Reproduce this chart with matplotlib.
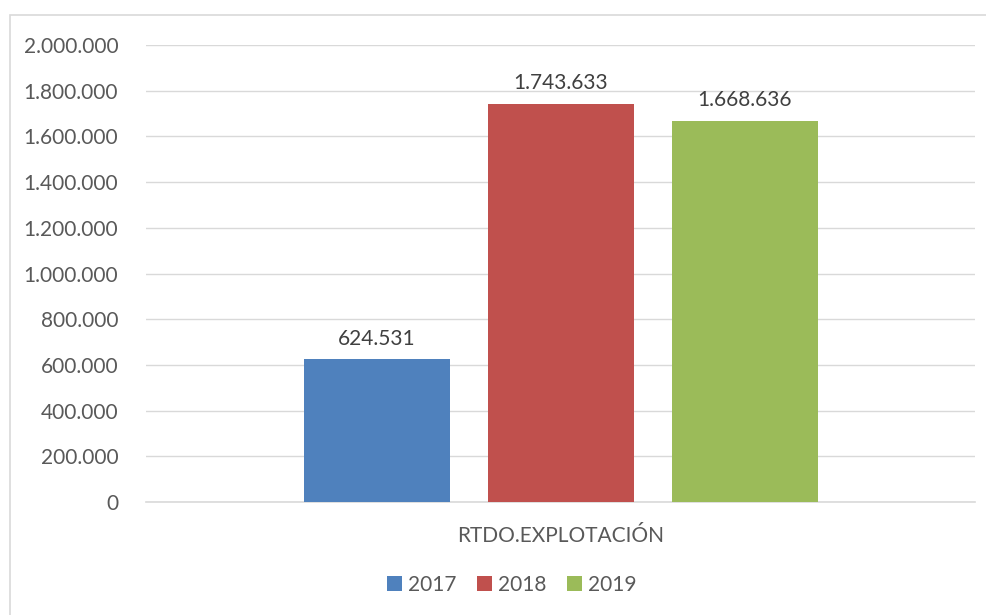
import matplotlib
matplotlib.use("Agg")
import matplotlib.pyplot as plt
from matplotlib.patches import Rectangle
from matplotlib.ticker import FuncFormatter

category = "RTDO.EXPLOTACIÓN"
years = ["2017", "2018", "2019"]
values = [624531, 1743633, 1668636]
colors = ["#4f81bd", "#c0504d", "#9bbb59"]
yticks = [0, 200000, 400000, 600000, 800000, 1000000, 1200000, 1400000, 1600000, 1800000, 2000000]

def fmt(v, pos=None):
    return f"{int(round(v)):,}".replace(",", ".")

plt.rcParams['font.family'] = ['Lato', 'DejaVu Sans']
txt = "#595959"

fig = plt.figure(figsize=(9.87, 6.15), dpi=100)
fig.patches.append(Rectangle((10/987, -0.01), 1.0, 1 - 15/615 + 0.01, transform=fig.transFigure,
                             fill=False, edgecolor="#d9d9d9", linewidth=1.2))
ax = fig.add_axes([146/987, 1 - 502/615, (975 - 146)/987, (502 - 45)/615])

w = 146/829
step = 184/829
offsets = [-step, 0, step]
for i, (yr, v, c) in enumerate(zip(years, values, colors)):
    ax.bar(offsets[i], v, width=w, color=c, label=yr, zorder=3)
    ax.text(offsets[i], v + 45000, fmt(v), ha="center", va="bottom", fontsize=15, color="#404040")

ax.set_xlim(-0.5, 0.5)
ax.set_ylim(0, 2000000)
ax.set_yticks(yticks)
ax.yaxis.set_major_formatter(FuncFormatter(fmt))
ax.set_xticks([0])
ax.set_xticklabels([category])
ax.tick_params(axis="both", length=0, labelsize=15, colors=txt)
ax.tick_params(axis="y", pad=20)
ax.tick_params(axis="x", pad=17)
ax.grid(axis="y", color="#d9d9d9", linewidth=1, zorder=0)
for s in ["top", "right", "left"]:
    ax.spines[s].set_visible(False)
ax.spines["bottom"].set_color("#d9d9d9")
ax.spines["bottom"].set_linewidth(1.2)

leg = fig.legend(loc="center", bbox_to_anchor=(512/987, 1 - 585/615), ncol=3, frameon=False,
                 fontsize=15, handlelength=0.7, handleheight=0.7, handletextpad=0.3, columnspacing=1.0)
for t in leg.get_texts():
    t.set_color(txt)

fig.savefig("out.png", dpi=100)
